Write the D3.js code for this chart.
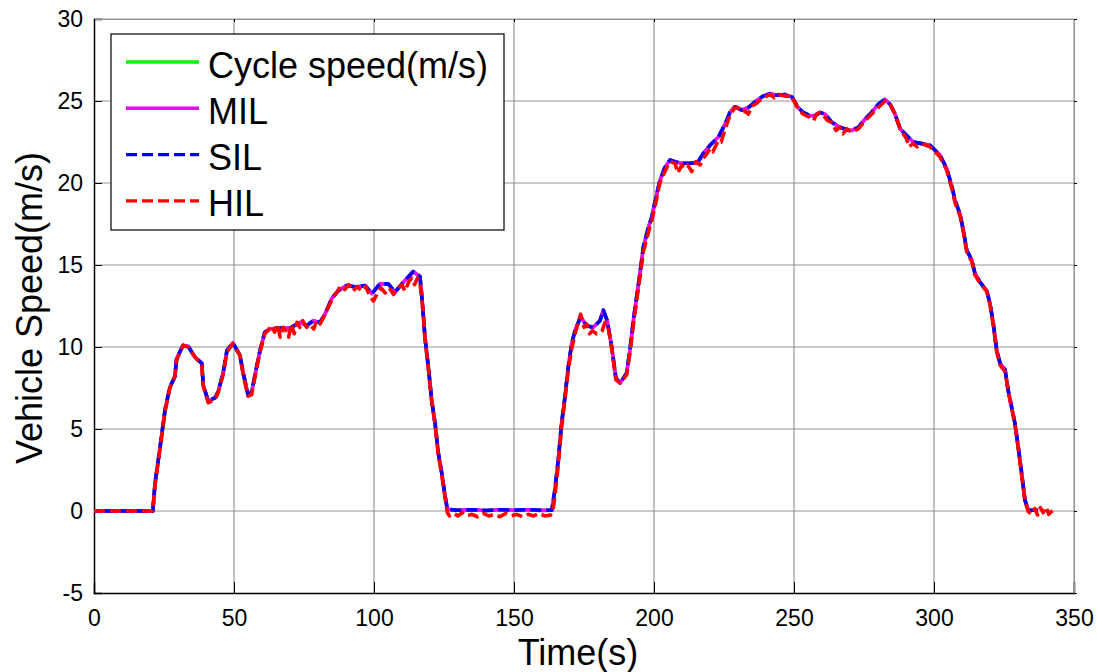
<!DOCTYPE html>
<html>
<head>
<meta charset="utf-8">
<script src="https://cdn.jsdelivr.net/npm/d3@7"></script>
<style>
  body { margin: 0; background: #fff; }
  text { font-family: Arial, "Liberation Sans", sans-serif; fill: #000; }
</style>
</head>
<body>
<div id="chart"></div>
<script>
// Cycle speed (MIL and SIL sit right on top of it)
const timeCycle = [0,21,21.8,23.6,25.4,27.1,28.9,29.5,31.8,33.6,36,38.5,39,40.8,43.2,44.3,46.1,47.5,49.6,52.1,53.3,55,56.3,58.1,59.3,61,62.9,66.4,70,73.6,76,78.3,80.7,82.5,84.9,87.3,90.2,93.8,96.8,99.2,102.1,105.1,107.5,110.5,114,116.4,117,118.2,119.4,120.6,121.8,123,124.2,125.4,126.2,130,135,140,145,150,155,160,163.5,164.6,165.8,167,168.2,169.4,170.6,171.8,173.8,175.9,178.3,180.7,181.9,183.3,184.9,186.4,187.9,190.2,191.4,192.6,193.8,195,196.2,198,199.2,200.4,202.1,203.9,205.7,207.5,209.9,213.5,215.8,217.6,220,223,225.4,227.1,228.9,231.3,233.7,236.1,239,241.4,243.8,246.8,249.2,251.5,253.3,255.7,257.5,259.3,261.1,263.5,266.4,268.8,270.6,273,275.4,277.7,280.1,282.5,284.3,286.1,287.9,290.2,292.6,295.6,298.6,302.1,304.5,306.3,307.5,309.3,310.5,311.7,313.5,314.6,316.4,318.8,320,321.2,322.4,323.6,325.4,326.5,327.7,328.9,330.1,331.3,332.5,333.7,337];
const speedCycle = [0,0,1.7,3.9,6.2,7.55,8.2,9.3,10.1,10.05,9.4,9.0,7.7,6.7,6.9,7.25,8.4,9.8,10.25,9.5,8.4,7.1,7.25,8.8,9.8,10.9,11.1,11.15,11.15,11.5,11.3,11.6,11.5,12.0,12.95,13.45,13.75,13.65,13.75,13.25,13.85,13.85,13.35,13.95,14.6,14.3,13.25,10.6,8.8,6.75,5.35,3.5,2.3,0.9,0.1,0.05,0.08,0.03,0.08,0.05,0.08,0.04,0.05,1.3,3.1,5.35,6.95,8.8,10.2,11.0,11.85,11.3,11.2,11.6,12.25,11.6,10.0,8.1,7.8,8.4,9.8,11.6,13.05,14.5,16.1,17.3,17.9,18.9,20.15,20.95,21.4,21.3,21.2,21.2,21.3,21.8,22.3,22.8,23.6,24.3,24.65,24.45,24.6,24.95,25.3,25.45,25.35,25.4,25.25,24.6,24.3,24.1,24.1,24.3,24.2,23.7,23.4,23.25,23.2,23.4,23.9,24.3,24.8,25.1,24.8,24.2,23.3,22.9,22.5,22.4,22.3,21.7,20.9,19.85,18.95,18.1,17.1,15.9,15.3,14.5,13.95,13.45,12.65,11.4,9.8,9.0,8.6,7.35,6.35,5.35,3.9,2.3,0.65,0.05,0.05];
const speedMil = speedCycle;
const speedSil = speedCycle;

// HIL run, noisier
const timeHil = [0,21,21.8,23.6,25.4,27.1,28.9,29.5,31.8,33.6,36,38.5,39,40.8,43.2,44.3,46.1,47.5,49.6,52.1,53.3,55,56.3,58.1,59.3,61,62,63.5,64.5,65.5,66.5,67.5,68.5,69.5,70.5,71.5,72.5,73.5,74.5,76,77,78.5,79.5,80.7,82,83,84.5,85.5,87,88,89.5,91,92.5,94,95.5,97,98,99.8,101,102.5,104,105.5,107,108.5,110,111,112.5,113.5,114.5,115.5,116.4,117.6,118.2,119.4,120.6,121.8,123,124.2,125.4,126.2,127,128.5,130,131.5,133,135,137,139,141,143,145,147,149,151,153,155,157,159,161,163,164,164.6,165.8,167,168.2,169.4,170.6,171.8,173.8,175,176,177,178,179.5,181.5,182.5,183.5,184.9,186.4,187.9,190.2,191.4,192.6,193.8,195,196.2,198,199.2,200.4,202.1,203.9,205.7,207.5,208.5,209.9,211,212,213.5,215,216.5,217.6,219,220,221,223,224,225.4,227.1,228.9,230,231.3,232.5,233.7,235,236.1,239,241.4,243,244.5,246.8,249.2,251.5,253.3,255.7,257,258,259.3,261.1,262,263.5,265,266.4,267.5,268.8,270.6,273,275.4,277.7,280.1,282.5,284.3,286.1,287.9,289,290.2,291,292.6,294,295.6,298.6,302.1,304.5,306.3,307.5,309.3,310.5,311.7,313.5,314.6,316.4,318.8,320,321.2,322.4,323.6,325.4,326.5,327.7,328.9,330.1,331.3,332.5,333.7,335,336,337,338,339,340,341,342.7];
const speedHil = [0,0,1.6,3.8,6.1,7.5,8.2,9.2,10.1,10.0,9.4,8.9,7.6,6.6,6.8,7.2,8.3,9.7,10.2,9.5,8.3,7.0,7.1,8.7,9.7,10.8,11.0,11.3,10.9,11.4,10.6,11.2,11.0,10.6,11.4,10.8,11.5,11.2,11.6,11.2,11.4,11.1,11.6,11.4,11.8,12.2,12.7,13.1,13.4,13.7,13.5,13.8,13.4,13.7,13.4,13.7,13.3,12.8,13.2,13.6,13.3,13.6,13.2,13.6,13.8,13.4,14.0,14.2,13.8,14.2,13.9,12.2,10.5,8.7,6.7,5.3,3.4,2.2,0.8,-0.1,-0.3,-0.15,-0.3,-0.1,-0.3,-0.2,-0.35,-0.15,-0.3,-0.2,-0.35,-0.15,-0.3,-0.2,-0.35,-0.2,-0.3,-0.15,-0.3,-0.25,0.1,0.9,2.8,5.1,6.8,8.6,9.9,10.8,12.0,11.2,11.4,10.8,11.0,10.8,11.0,11.5,11.3,9.9,8.0,7.8,8.3,9.6,11.3,12.8,14.3,15.8,17.0,17.7,18.6,20.0,20.7,21.3,21.2,20.6,21.1,20.9,21.1,20.7,21.3,21.1,21.5,21.8,22.1,21.9,22.6,22.5,23.3,24.1,24.6,24.6,24.3,24.4,24.2,24.7,24.8,25.2,25.4,25.2,25.4,25.3,25.3,24.5,24.2,24.0,23.8,24.2,24.3,24.0,23.8,23.7,23.2,23.4,23.0,23.3,23.1,23.3,23.8,24.2,24.6,25.0,24.8,24.2,23.3,23.0,22.7,22.2,22.4,22.2,22.4,22.2,21.6,20.8,19.7,18.8,18.0,17.0,15.8,15.2,14.4,13.9,13.4,12.6,11.3,9.7,8.9,8.5,7.3,6.3,5.3,3.8,2.2,0.6,-0.05,-0.2,0.15,-0.25,0.2,-0.1,0.25,-0.2,0.1];

const xTicks = [0, 50, 100, 150, 200, 250, 300, 350];
const yTicks = [-5, 0, 5, 10, 15, 20, 25, 30];
const legendNames = ["Cycle speed(m/s)", "MIL", "SIL", "HIL"];

const width = 1097, height = 672;
const margin = {left: 94, top: 19, right: 23, bottom: 79};
const w = width - margin.left - margin.right;
const h = height - margin.top - margin.bottom;

const svg = d3.select("#chart").append("svg")
  .attr("width", width)
  .attr("height", height);

const x = d3.scaleLinear().domain([0, 350]).range([0, w]);
const y = d3.scaleLinear().domain([-5, 30]).range([h, 0]);

const g = svg.append("g").attr("transform", `translate(${margin.left},${margin.top})`);

// grid
g.append("g").selectAll("line").data(xTicks.slice(1)).enter().append("line")
  .attr("x1", d => x(d)).attr("x2", d => x(d))
  .attr("y1", 0).attr("y2", h)
  .attr("stroke", "#969696").attr("stroke-width", 1.2);
g.append("g").selectAll("line").data(yTicks.slice(1)).enter().append("line")
  .attr("x1", 0).attr("x2", w)
  .attr("y1", d => y(d)).attr("y2", d => y(d))
  .attr("stroke", "#969696").attr("stroke-width", 1.2);

// axes (ticks pointing inwards, matlab style)
const plain = d => String(d);
g.append("g").attr("transform", `translate(0,${h})`)
  .call(d3.axisBottom(x).tickValues(xTicks).tickSize(-11).tickPadding(17).tickFormat(plain))
  .call(a => a.select(".domain").attr("stroke", "#000").attr("stroke-width", 1.5));
g.append("g")
  .call(d3.axisLeft(y).tickValues(yTicks).tickSize(-8).tickPadding(11).tickFormat(plain))
  .call(a => a.select(".domain").attr("stroke", "#000").attr("stroke-width", 1.5));
g.append("g")
  .call(d3.axisTop(x).tickValues(xTicks).tickSize(-3).tickFormat(""))
  .call(a => a.select(".domain").attr("stroke", "#969696"));
g.append("g").attr("transform", `translate(${w},0)`)
  .call(d3.axisRight(y).tickValues(yTicks).tickSize(3).tickFormat(""))
  .call(a => a.select(".domain").attr("stroke", "#969696"));

g.selectAll(".tick text").style("font-size", "23px").attr("font-family", "Arial, 'Liberation Sans', sans-serif");

// curves
const line = d3.line().x(d => x(d[0])).y(d => y(d[1]));
const series = [
  {pts: timeCycle.map((t, i) => [t, speedCycle[i]]), color: "#00ff00", dash: null, off: 0},
  {pts: timeCycle.map((t, i) => [t, speedMil[i]]), color: "#ff00ff", dash: null, off: 0},
  {pts: timeCycle.map((t, i) => [t, speedSil[i]]), color: "#0000ff", dash: "11,5", off: 6},
  {pts: timeHil.map((t, i) => [t, speedHil[i]]), color: "#ff0000", dash: "11,5", off: 0}
];
series.forEach(s => {
  g.append("path")
    .attr("d", line(s.pts))
    .attr("fill", "none")
    .attr("stroke", s.color)
    .attr("stroke-width", 3.6)
    .attr("stroke-linejoin", "round")
    .attr("stroke-dasharray", s.dash)
    .attr("stroke-dashoffset", s.off);
});

// axis titles
svg.append("text")
  .attr("x", 578).attr("y", 665)
  .attr("text-anchor", "middle")
  .style("font-size", "36px")
  .text("Time(s)");
svg.append("text")
  .attr("transform", "translate(42,308) rotate(-90)")
  .attr("text-anchor", "middle")
  .style("font-size", "36px")
  .text("Vehicle Speed(m/s)");

// legend
const lg = svg.append("g");
lg.append("rect")
  .attr("x", 111).attr("y", 34)
  .attr("width", 393).attr("height", 196)
  .attr("fill", "#fff").attr("stroke", "#000").attr("stroke-width", 1.2);
const rows = lg.selectAll(".row").data(legendNames).enter().append("g")
  .attr("transform", (d, i) => `translate(0,${62 + i * 46.3})`);
rows.append("line")
  .attr("x1", 126).attr("x2", 199)
  .attr("stroke", (d, i) => series[i].color)
  .attr("stroke-width", 3.4)
  .attr("stroke-dasharray", (d, i) => series[i].dash);
rows.append("text")
  .attr("x", 208).attr("y", 15.5)
  .style("font-size", "36px")
  .text(d => d);
</script>
</body>
</html>
